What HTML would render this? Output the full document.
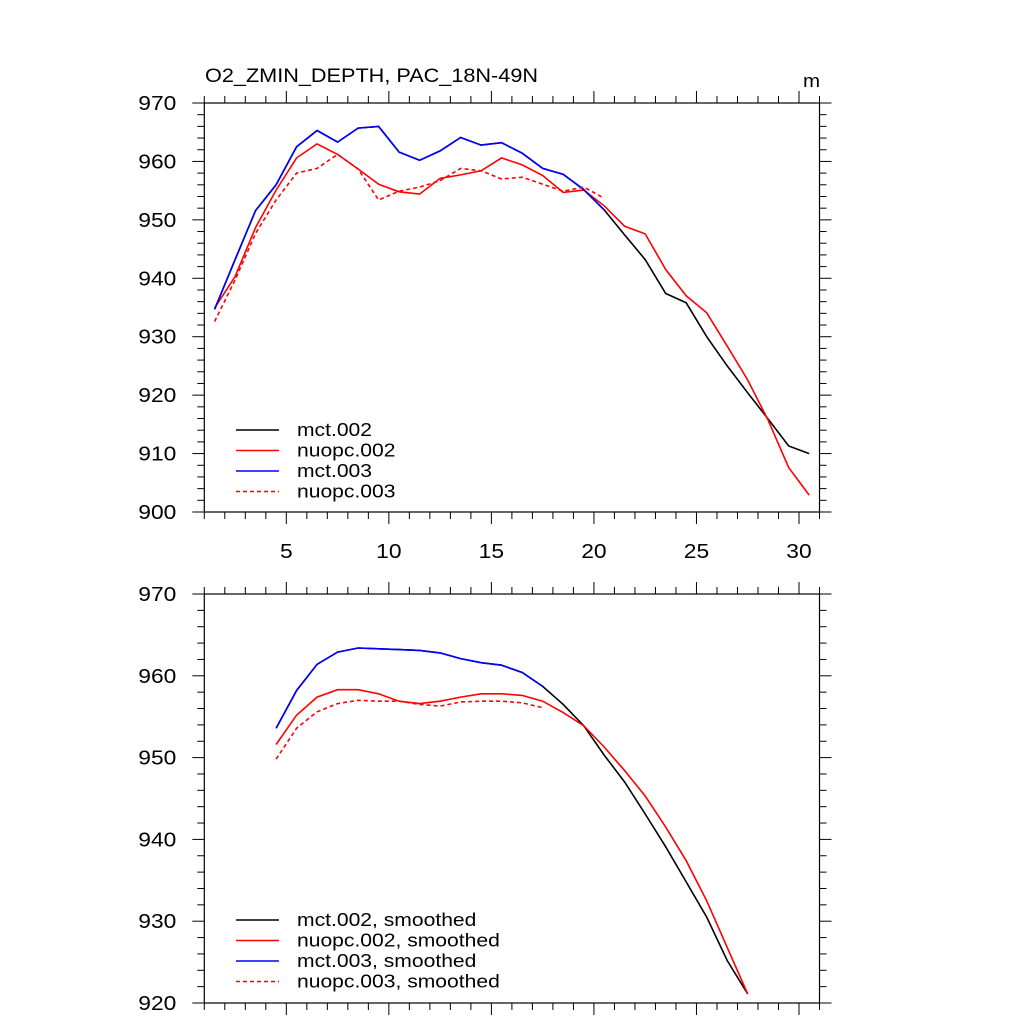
<!DOCTYPE html>
<html><head><meta charset="utf-8">
<style>
html,body{margin:0;padding:0;background:#fff;}
svg{display:block;font-family:"Liberation Sans",Arial,sans-serif;}
</style></head>
<body>
<svg id="chart" width="1024" height="1024" viewBox="0 0 1024 1024">
<text x="205" y="82" font-size="19">O2_ZMIN_DEPTH, PAC_18N-49N</text>
<text x="803" y="87" font-size="18">m</text>
<g id="top"></g>
<g id="bot"></g>
</svg>
<script>
const xTop = [1.5,2.5,3.5,4.5,5.5,6.5,7.5,8.5,9.5,10.5,11.5,12.5,13.5,14.5,15.5,16.5,17.5,18.5,19.5,20.5,21.5,22.5,23.5,24.5,25.5,26.5,27.5,28.5,29.5,30.5];
const mct002 = [934.7,943.2,951.6,956.0,962.5,965.3,963.3,965.7,966.0,961.6,960.2,961.8,964.1,962.8,963.2,961.4,958.8,957.8,955.2,951.7,947.4,943.2,937.4,935.8,930.0,925.0,920.4,915.9,911.3,910.0];
const nuopc002 = [934.9,940.3,948.7,955.1,960.6,963.0,961.2,958.7,956.1,954.8,954.4,957.1,957.7,958.4,960.6,959.4,957.6,954.7,955.1,952.4,948.9,947.6,941.5,937.0,934.1,928.4,922.6,915.7,907.6,902.9];
const mct003 = [934.7,943.2,951.6,956.0,962.5,965.3,963.3,965.7,966.0,961.6,960.2,961.8,964.1,962.8,963.2,961.4,958.8,957.8,955.2,951.7];
const nuopc003 = [932.6,939.7,947.7,953.4,958.0,958.8,961.2,958.7,953.4,954.9,955.6,956.7,958.8,958.4,957.0,957.3,956.1,954.9,955.6,953.7];

const xBot = [4.5,5.5,6.5,7.5,8.5,9.5,10.5,11.5,12.5,13.5,14.5,15.5,16.5,17.5,18.5,19.5,20.5,21.5,22.5,23.5,24.5,25.5,26.5,27.5];
const mct002s = [953.6,958.2,961.4,962.9,963.4,963.3,963.2,963.1,962.8,962.1,961.6,961.3,960.4,958.7,956.5,953.9,950.3,947.0,943.1,939.1,934.8,930.5,925.2,921.1];
const nuopc002s = [951.6,955.2,957.4,958.3,958.3,957.8,956.9,956.6,956.9,957.4,957.8,957.8,957.6,956.9,955.5,953.9,951.3,948.4,945.3,941.5,937.4,932.5,926.8,921.1];
const mct003s = [953.6,958.2,961.4,962.9,963.4,963.3,963.2,963.1,962.8,962.1,961.6,961.3,960.4,958.7];
const nuopc003s = [949.8,953.6,955.6,956.6,957.0,956.9,956.9,956.5,956.3,956.8,956.9,956.9,956.7,956.1];

const topYTicks = [900,910,920,930,940,950,960,970];
const botYTicks = [920,930,940,950,960,970];
const xTickLabels = [5,10,15,20,25,30];
const legendTop = ["mct.002","nuopc.002","mct.003","nuopc.003"];
const legendBot = ["mct.002, smoothed","nuopc.002, smoothed","mct.003, smoothed","nuopc.003, smoothed"];

const NS = "http://www.w3.org/2000/svg";
function mk(parent, tag, attrs){ const e=document.createElementNS(NS,tag); for(const k in attrs) e.setAttribute(k,attrs[k]); parent.appendChild(e); return e; }

function panel(g, top, bottom, ymin, ymax, minorStep, yTicks, showXLabels, series, legend, legY){
  const L=204.3, R=819.5, xmin=1, xmax=31;
  const sx = v => L + (v-xmin)/(xmax-xmin)*(R-L);
  const sy = v => bottom - (v-ymin)/(ymax-ymin)*(bottom-top);
  for(let v=xmin; v<=xmax; v++){
    const major = v%5===0, len = major?12:7;
    let t=mk(g,'line',{x1:sx(v),x2:sx(v),y1:top,y2:top-len,stroke:'#000','stroke-width':1});
    
    
    t=mk(g,'line',{x1:sx(v),x2:sx(v),y1:bottom,y2:bottom+len,stroke:'#000','stroke-width':1});
    
    
  }
  for(let v=ymin; v<=ymax+1e-6; v+=minorStep){
    const major = Math.abs(v%10)<1e-6, len = major?12:7;
    let t=mk(g,'line',{x1:L,x2:L-len,y1:sy(v),y2:sy(v),stroke:'#000','stroke-width':1});
    
    
    t=mk(g,'line',{x1:R,x2:R+len,y1:sy(v),y2:sy(v),stroke:'#000','stroke-width':1});
    
    
  }
  yTicks.forEach(v=>{
    const t=mk(g,'text',{x:L-28,y:sy(v)+7,'font-size':20,'text-anchor':'end'});
    t.textContent=v;
    
    
  });
  if(showXLabels){
    xTickLabels.forEach(v=>{
      const t=mk(g,'text',{x:sx(v),y:bottom+46,'font-size':20,'text-anchor':'middle'});
      t.textContent=v;
      
      
    });
  }
  const fr=mk(g,'rect',{x:L,y:top,width:R-L,height:bottom-top,fill:'none',stroke:'#000','stroke-width':1.2});
  
  
  series.forEach((s,i)=>{
    const pts=s.y.map((v,j)=>sx(s.x[j]).toFixed(1)+','+sy(v).toFixed(1)).join(' ');
    const p=mk(g,'polyline',{points:pts,fill:'none',stroke:s.c,'stroke-width':1.6,'stroke-dasharray':s.d||'none'});
    
    
  });
  [0,1,2,3].forEach(i=>{
    const s=series[i], y=legY+i*20.5;
    const l=mk(g,'line',{x1:236,x2:279,y1:y,y2:y,stroke:s.c,'stroke-width':1.6,'stroke-dasharray':s.d||'none'});
    
    
    const t=mk(g,'text',{x:297,y:y+6,'font-size':18.5});
    t.textContent=legend[i];
    
    
  });
}
panel(document.getElementById('top'),103,512,900,970,2,topYTicks,true,[
  {x:xTop,y:mct002,c:'#000',n:'mct-002'},
  {x:xTop,y:nuopc002,c:'#f00',n:'nuopc-002'},
  {x:xTop,y:mct003,c:'#00f',n:'mct-003'},
  {x:xTop,y:nuopc003,c:'#f00',d:'4,3',n:'nuopc-003'}
],legendTop,430);
panel(document.getElementById('bot'),594,1003,920,970,2,botYTicks,false,[
  {x:xBot,y:mct002s,c:'#000',n:'mct-002-smoothed'},
  {x:xBot,y:nuopc002s,c:'#f00',n:'nuopc-002-smoothed'},
  {x:xBot,y:mct003s,c:'#00f',n:'mct-003-smoothed'},
  {x:xBot,y:nuopc003s,c:'#f00',d:'4,3',n:'nuopc-003-smoothed'}
],legendBot,920);
// widen glyphs to match the reference's wider font
document.querySelectorAll('svg text').forEach(t=>{
  const len=t.getComputedTextLength();
  t.setAttribute('textLength',(len*1.14).toFixed(1));
  t.setAttribute('lengthAdjust','spacingAndGlyphs');
});
</script>
</body></html>
